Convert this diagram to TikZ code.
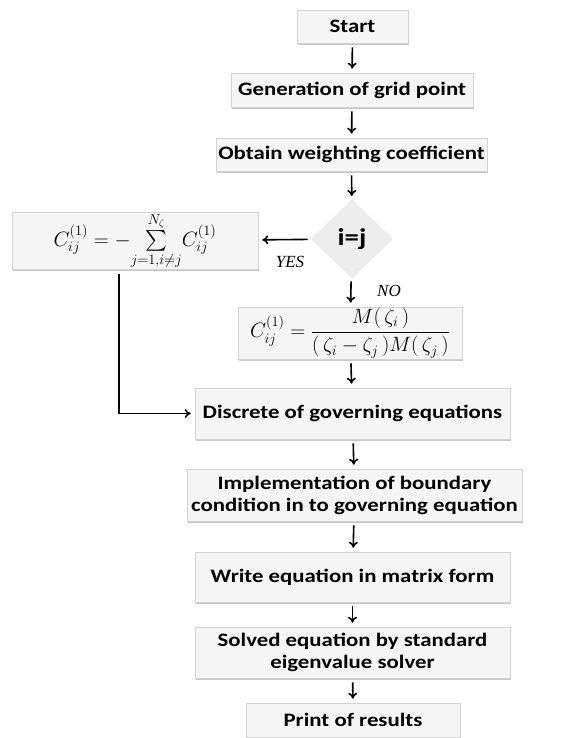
\documentclass[tikz,border=0pt]{standalone}
\usepackage{amsmath}
\usepackage{fontspec}
\newfontfamily\boxfont{Carlito}[FakeStretch=1.2]
\newfontfamily\lblfont{Liberation Serif}
\usetikzlibrary{shapes.geometric,shadows,arrows.meta}
\begin{document}
\begin{tikzpicture}[x=1pt,y=-1pt,
  stepbox/.style={rectangle, fill=gray!8, draw=gray!35, line width=0.6pt,
    drop shadow={shadow xshift=1.2pt, shadow yshift=-1.8pt, fill=gray!55, opacity=0.8},
    inner sep=0pt, align=center,
    font=\boxfont\bfseries\fontsize{19}{22}\selectfont},
  mathbox/.style={rectangle, fill=gray!8, draw=gray!35, line width=0.6pt,
    drop shadow={shadow xshift=1.2pt, shadow yshift=-1.8pt, fill=gray!55, opacity=0.8},
    inner sep=0pt, font=\fontsize{20}{24}\selectfont},
  decbox/.style={diamond, fill=gray!14, draw=gray!20, inner sep=0pt,
    font=\boxfont\bfseries\fontsize{24}{26}\selectfont},
  flow/.style={-{To[length=6pt,width=9pt]}, line width=1.6pt, shorten <=4pt, shorten >=4pt},
  lbl/.style={font=\lblfont\itshape\fontsize{17}{20}\selectfont}
]
\useasboundingbox (0,0) rectangle (568,738);
\node[stepbox, minimum width=111pt, minimum height=33pt] (start) at (352.5,26.5) {Start};
\node[stepbox, minimum width=242pt, minimum height=34pt] (gen) at (352,90) {Generation of grid point};
\node[stepbox, minimum width=271pt, minimum height=33pt] (obt) at (351.5,154.5) {Obtain weighting coefficient};
\node[decbox, minimum width=81pt, minimum height=78pt] (dec) at (352,239) {i=j};
\node[mathbox, minimum width=246pt, minimum height=52pt] (left) at (135,241)
  {$C_{ij}^{(1)}=-\!\sum\limits_{j=1,i\neq j}^{N_\zeta}\! C_{ij}^{(1)}$};
\node[mathbox, minimum width=224pt, minimum height=52pt] (right) at (350,333)
  {$C_{ij}^{(1)}=\dfrac{M(\,\zeta_i\,)}{(\,\zeta_i-\zeta_j\,)M(\,\zeta_j\,)}$};
\node[stepbox, minimum width=315pt, minimum height=51pt] (disc) at (352.5,413.5) {Discrete of governing equations};
\node[stepbox, minimum width=335pt, minimum height=52pt] (impl) at (354.5,495) {Implementation of boundary\\condition in to governing equation};
\node[stepbox, minimum width=315pt, minimum height=50pt] (write) at (352.5,577) {Write equation in matrix form};
\node[stepbox, minimum width=315pt, minimum height=51pt] (solv) at (352.5,652.5) {Solved equation by standard\\eigenvalue solver};
\node[stepbox, minimum width=214pt, minimum height=34pt] (print) at (353,720) {Print of results};
\node[lbl] (yes) at (290,262) {YES};
\node[lbl] (no) at (389,291) {NO};
\draw[flow] (start) -- (gen);
\draw[flow] (gen) -- (obt);
\draw[flow] (obt) -- (dec);
\draw[flow] (dec) -- (left);
\draw[flow] (dec) -- (right);
\draw[flow] (right) -- (disc);
\draw[flow] ([xshift=-16pt]left.south) |- (disc.west);
\draw[flow] (disc) -- (impl);
\draw[flow] (impl) -- (write);
\draw[flow] (write) -- (solv);
\draw[flow] (solv) -- (print);
\end{tikzpicture}
\end{document}
